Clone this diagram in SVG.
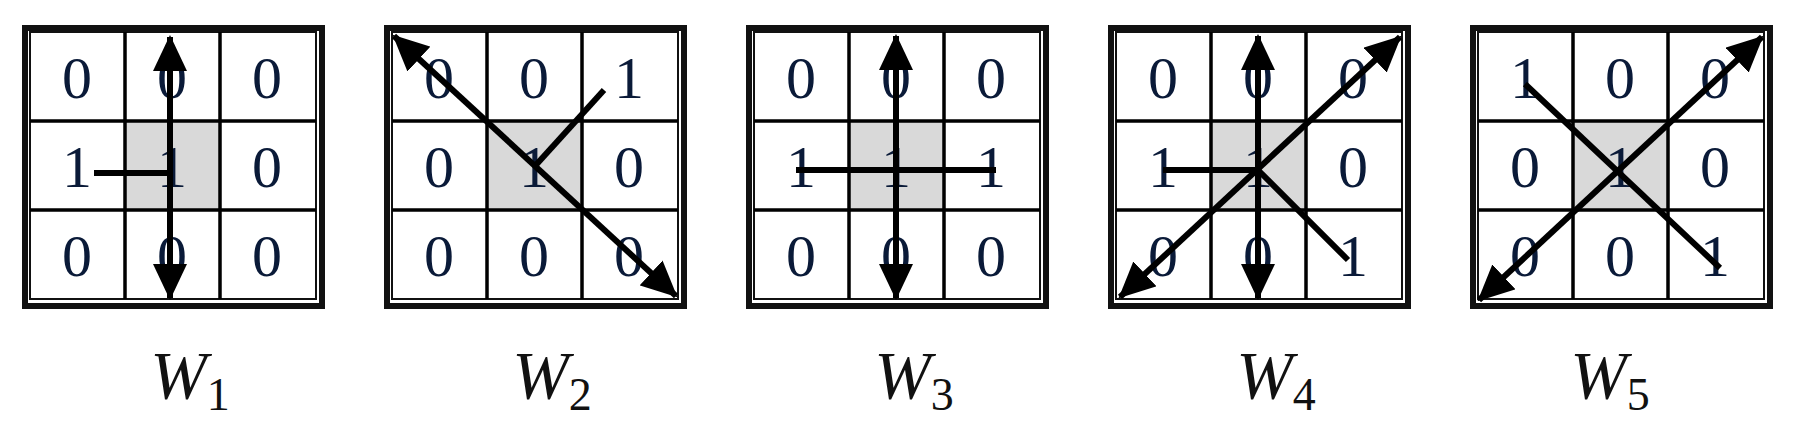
<svg xmlns="http://www.w3.org/2000/svg" width="1801" height="433" viewBox="0 0 1801 433">
<style>
.o{fill:none;stroke:#111;stroke-width:6}
.i{fill:none;stroke:#111;stroke-width:2}
.g{stroke:#000;stroke-width:3.5}
.c{fill:#d9d9d9}
.d{font-family:"Liberation Serif",serif;font-size:60px;fill:#0a1a38;text-anchor:middle}
.l{stroke:#000;stroke-width:6;fill:none}
.a{marker-start:url(#ah);marker-end:url(#ah)}
.w{font-family:"Liberation Serif",serif;font-style:italic;font-size:68px;fill:#111;text-anchor:middle}
.s{font-style:normal;font-size:46px}
</style>
<defs>
<marker id="ah" markerUnits="userSpaceOnUse" viewBox="0 0 36 34" refX="34" refY="17" markerWidth="36" markerHeight="34" orient="auto-start-reverse"><path d="M0,0 L36,17 L0,34 Z" fill="#000"/></marker>
<g id="grid">
<rect class="c" x="103" y="121" width="95" height="89"/>
<rect class="o" x="3" y="28" width="297" height="278"/>
<rect class="i" x="8" y="32" width="286" height="267"/>
<path class="g" d="M103,32V299M198,32V299M8,121H294M8,210H294"/>
</g>
</defs>
<g id="W1" transform="translate(22,0)">
<use href="#grid"/>
<text class="d" x="55" y="98">0</text><text class="d" x="150" y="98">0</text><text class="d" x="245" y="98">0</text>
<text class="d" x="55" y="187">1</text><text class="d" x="150" y="187">1</text><text class="d" x="245" y="187">0</text>
<text class="d" x="55" y="276">0</text><text class="d" x="150" y="276">0</text><text class="d" x="245" y="276">0</text>
<text class="w" x="168" y="398">W<tspan class="s" dy="12">1</tspan></text>
</g>
<g id="W2" transform="translate(384,0)">
<use href="#grid"/>
<text class="d" x="55" y="98">0</text><text class="d" x="150" y="98">0</text><text class="d" x="245" y="98">1</text>
<text class="d" x="55" y="187">0</text><text class="d" x="150" y="187">1</text><text class="d" x="245" y="187">0</text>
<text class="d" x="55" y="276">0</text><text class="d" x="150" y="276">0</text><text class="d" x="245" y="276">0</text>
<text class="w" x="168" y="398">W<tspan class="s" dy="12">2</tspan></text>
</g>
<g id="W3" transform="translate(746,0)">
<use href="#grid"/>
<text class="d" x="55" y="98">0</text><text class="d" x="150" y="98">0</text><text class="d" x="245" y="98">0</text>
<text class="d" x="55" y="187">1</text><text class="d" x="150" y="187">1</text><text class="d" x="245" y="187">1</text>
<text class="d" x="55" y="276">0</text><text class="d" x="150" y="276">0</text><text class="d" x="245" y="276">0</text>
<text class="w" x="168" y="398">W<tspan class="s" dy="12">3</tspan></text>
</g>
<g id="W4" transform="translate(1108,0)">
<use href="#grid"/>
<text class="d" x="55" y="98">0</text><text class="d" x="150" y="98">0</text><text class="d" x="245" y="98">0</text>
<text class="d" x="55" y="187">1</text><text class="d" x="150" y="187">1</text><text class="d" x="245" y="187">0</text>
<text class="d" x="55" y="276">0</text><text class="d" x="150" y="276">0</text><text class="d" x="245" y="276">1</text>
<text class="w" x="168" y="398">W<tspan class="s" dy="12">4</tspan></text>
</g>
<g id="W5" transform="translate(1470,0)">
<use href="#grid"/>
<text class="d" x="55" y="98">1</text><text class="d" x="150" y="98">0</text><text class="d" x="245" y="98">0</text>
<text class="d" x="55" y="187">0</text><text class="d" x="150" y="187">1</text><text class="d" x="245" y="187">0</text>
<text class="d" x="55" y="276">0</text><text class="d" x="150" y="276">0</text><text class="d" x="245" y="276">1</text>
<text class="w" x="140" y="398">W<tspan class="s" dy="12">5</tspan></text>
</g>
<g id="connectors">
<g transform="translate(22,0)">
<line class="l a" x1="148" y1="37" x2="148" y2="298"/>
<line class="l" x1="72" y1="173" x2="148" y2="173"/>
</g>
<g transform="translate(384,0)">
<line class="l a" x1="10" y1="36" x2="292" y2="296"/>
<line class="l" x1="151" y1="166" x2="220" y2="90"/>
</g>
<g transform="translate(746,0)">
<line class="l a" x1="150" y1="36" x2="150" y2="298"/>
<line class="l" x1="50" y1="170" x2="250" y2="170"/>
</g>
<g transform="translate(1108,0)">
<line class="l a" x1="150" y1="36" x2="150" y2="298"/>
<line class="l" x1="55" y1="170" x2="150" y2="170"/>
<line class="l a" x1="12" y1="297" x2="292" y2="37"/>
<line class="l" x1="150" y1="170" x2="240" y2="260"/>
</g>
<g transform="translate(1470,0)">
<line class="l a" x1="9" y1="300" x2="292" y2="37"/>
<line class="l" x1="55" y1="84" x2="250" y2="268"/>
</g>
</g>
</svg>
